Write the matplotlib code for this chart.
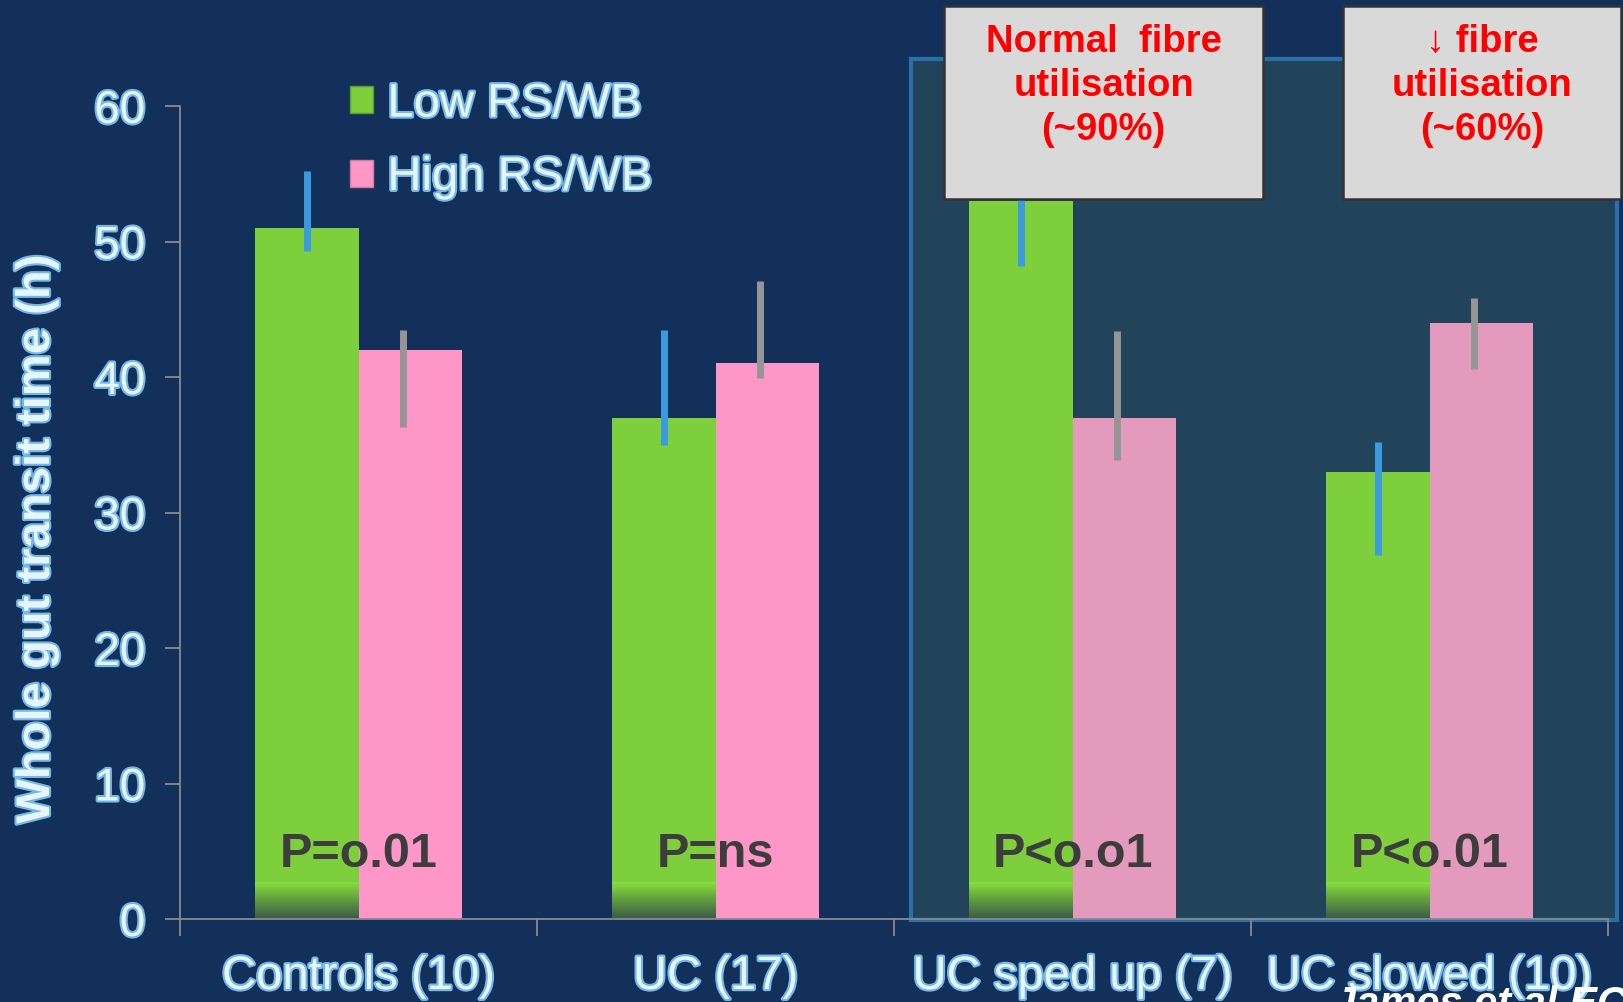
import numpy as np
import matplotlib
matplotlib.use("Agg")
import matplotlib.pyplot as plt
import matplotlib.patheffects as pe
from matplotlib.patches import Rectangle, Patch
from matplotlib.colors import LinearSegmentedColormap

# group data
groups = ["Controls (10)", "UC (17)", "UC sped up (7)", "UC slowed (10)"]
low_vals = [51, 37, 53, 33]
high_vals = [42, 41, 37, 44]
low_err_lo = [49.3, 35.0, 48.2, 26.9]
low_err_hi = [55.2, 43.5, 56.0, 35.2]
high_err_lo = [36.3, 39.9, 33.9, 40.6]
high_err_hi = [43.5, 47.1, 43.4, 45.8]
p_labels = ["P=o.01", "P=ns", "P<o.o1", "P<o.01"]
legend_labels = ["Low RS/WB", "High RS/WB"]
yticks = [0, 10, 20, 30, 40, 50, 60]
box_texts = ["Normal  fibre\nutilisation\n(~90%)", "\u2193 fibre\nutilisation\n(~60%)"]

BG = "#12305a"
BOX_BG = "#21445b"
GREEN = "#7ecf3c"
PINK = "#ff96c8"
PINK_BOX = "#e49abd"
LIGHT = "#e6f5ff"
GLOW = [pe.withStroke(linewidth=3, foreground="#72b8e8")]
SANS = ["Liberation Sans", "DejaVu Sans"]

W, H = 1623, 1003
fig = plt.figure(figsize=(W / 100, H / 100), dpi=100, facecolor=BG)
ax = fig.add_axes([180 / W, 1 - 920 / H, 1428 / W, 813 / H])
ax.set_facecolor("none")

x = np.arange(len(groups))
bw = 0.29
pink_colors = [PINK, PINK, PINK_BOX, PINK_BOX]

# shaded panel behind the UC subgroups
ax.add_patch(Rectangle((911 / W, 1 - 921 / H), 706 / W, 861 / H, transform=fig.transFigure,
                       facecolor=BOX_BG, edgecolor="#2a6fa6", linewidth=3, zorder=0.5, clip_on=False))

ax.bar(x - bw / 2, low_vals, bw, color=GREEN, zorder=2)
ax.bar(x + bw / 2, high_vals, bw, color=pink_colors, zorder=2)

# dark fade at the foot of the green bars
fade = LinearSegmentedColormap.from_list("fade", ["#3a5a48", "#5f9a40", "#88de3e"])
grad = np.linspace(0, 1, 64).reshape(-1, 1)
for xi in x:
    ax.imshow(grad, cmap=fade, origin="lower", aspect="auto",
              extent=(xi - bw, xi, 0, 2.7), zorder=2.5)

ax.vlines(x - bw / 2, low_err_lo, low_err_hi, color="#3a9be0", linewidth=5, zorder=3)
ax.vlines(x + bw / 2 - 0.02, high_err_lo, high_err_hi, color="#959595", linewidth=5, zorder=3)

for xi, lab in zip(x, p_labels):
    ax.text(xi, 4.8, lab, ha="center", va="center", fontsize=35, fontweight="bold",
            color="#3d3d3d", family=SANS, zorder=4)

ax.set_xlim(-0.5, 3.5)
ax.set_ylim(0, 60)
ax.set_yticks(yticks)
ax.set_xticks(np.arange(-0.5, 4, 1))
ax.set_xticklabels([])
ax.set_xticks(x, minor=True)
ax.set_xticklabels(groups, minor=True)
ax.tick_params(axis="x", which="minor", length=0, pad=26)
ax.tick_params(axis="x", which="major", length=12, width=1.3, color="#8a8a8a")
ax.tick_params(axis="y", length=11, width=1.3, color="#8a8a8a", pad=14)
for lab in ax.get_yticklabels():
    lab.set_fontsize(33)
for lab in ax.get_xticklabels(minor=True):
    lab.set_fontsize(34)
for lab in ax.get_yticklabels() + ax.get_xticklabels(minor=True):
    lab.set_color(LIGHT)
    lab.set_family(SANS)
    lab.set_path_effects(GLOW)
for side in ["top", "right"]:
    ax.spines[side].set_visible(False)
for side in ["left", "bottom"]:
    ax.spines[side].set_color("#8a8a8a")
    ax.spines[side].set_linewidth(1.3)

fig.text(37 / W, 1 - 540 / H, "Whole gut transit time (h)", rotation=90, ha="center", va="center",
         fontsize=34, fontweight="bold", color=LIGHT, family=SANS, path_effects=GLOW)

handles = [Patch(facecolor=GREEN, edgecolor="#5a9a30"), Patch(facecolor=PINK, edgecolor="#d07aa0")]
leg = ax.legend(handles, legend_labels, loc="upper left", bbox_to_anchor=(326 / W, 1 - 60 / H),
                bbox_transform=fig.transFigure, frameon=False, borderpad=0,
                handlelength=0.5, handleheight=0.5, handletextpad=0.3, labelspacing=0.62,
                prop={"family": SANS, "size": 34})
for t in leg.get_texts():
    t.set_color(LIGHT)
    t.set_path_effects(GLOW)

# callout boxes above the UC subgroups
for (x0, x1), txt in zip([(944, 1263), (1343, 1621)], box_texts):
    fig.patches.append(Rectangle((x0 / W, 1 - 200 / H), (x1 - x0) / W, 193 / H, transform=fig.transFigure,
                                 facecolor="#d9d9d9", edgecolor="#333333", linewidth=1.8, zorder=5))
    fig.text((x0 + x1) / 2 / W, 1 - 86 / H, txt, ha="center", va="center", fontsize=27.5,
             fontweight="bold", color="#ff0000", linespacing=1.28,
             family=["Liberation Sans Narrow", "Liberation Sans", "DejaVu Sans"], zorder=6)

fig.text(1333 / W, 1 - 985 / H, "James et al ECCO", ha="left", va="top", fontsize=30,
         fontweight="bold", fontstyle="italic", color="white", family=SANS)

fig.savefig("out.png", dpi=100, facecolor=BG)
